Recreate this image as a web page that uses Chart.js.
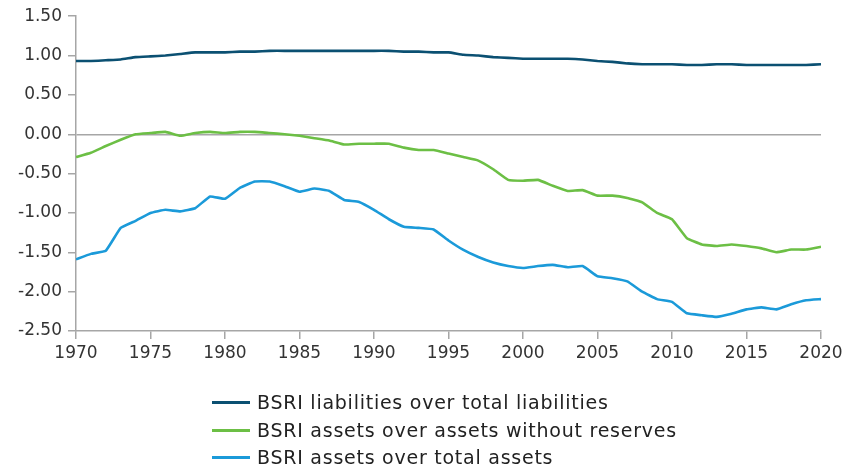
<!DOCTYPE html>
<html>
<head>
<meta charset="utf-8">
<script src="https://cdn.jsdelivr.net/npm/chart.js@4.4.0/dist/chart.umd.min.js"></script>
<style>
  body { margin: 0; background: #fff; }
  #wrap { position: relative; width: 849px; height: 469px; }
  #legend { position: absolute; left: 212px; top: 389px; font-family: "DejaVu Sans", sans-serif; font-size: 19px; letter-spacing: 0.75px; color: #222; }
  #legend div { height: 27.5px; line-height: 27px; white-space: nowrap; }
  #legend span { display: inline-block; width: 38px; height: 3px; vertical-align: middle; margin-right: 7px; position: relative; top: -1px; }
</style>
</head>
<body>
<div id="wrap">
  <canvas id="canvas" width="849" height="469"></canvas>
  <div id="legend"></div>
</div>
<script>
var years = [];
for (var y = 1970; y <= 2020; y++) years.push(y);

var seriesNames = [
  "BSRI liabilities over total liabilities",
  "BSRI assets over assets without reserves",
  "BSRI assets over total assets"
];
var seriesColors = ["#0b5072", "#6cbf45", "#1b9ad9"];

var liabilities = [0.93, 0.93, 0.94, 0.95, 0.98, 0.99, 1.00, 1.02, 1.04, 1.04,
  1.04, 1.05, 1.05, 1.06, 1.06, 1.06, 1.06, 1.06, 1.06, 1.06,
  1.06, 1.06, 1.05, 1.05, 1.04, 1.04, 1.01, 1.00, 0.98, 0.97,
  0.96, 0.96, 0.96, 0.96, 0.95, 0.93, 0.92, 0.90, 0.89, 0.89,
  0.89, 0.88, 0.88, 0.89, 0.89, 0.88, 0.88, 0.88, 0.88, 0.88, 0.89];

var assetsNoReserves = [-0.29, -0.235, -0.15, -0.07, 0.00, 0.015, 0.03, -0.02, 0.015, 0.03,
  0.015, 0.03, 0.03, 0.015, 0.00, -0.02, -0.05, -0.08, -0.13, -0.12,
  -0.12, -0.12, -0.17, -0.20, -0.20, -0.245, -0.29, -0.335, -0.445, -0.58,
  -0.59, -0.58, -0.655, -0.72, -0.71, -0.78, -0.78, -0.81, -0.865, -1.00,
  -1.08, -1.32, -1.40, -1.42, -1.40, -1.42, -1.45, -1.50, -1.465, -1.465, -1.43];

var assetsTotal = [-1.59, -1.52, -1.48, -1.19, -1.10, -1.00, -0.96, -0.98, -0.94, -0.79,
  -0.82, -0.68, -0.60, -0.60, -0.66, -0.73, -0.69, -0.72, -0.835, -0.86,
  -0.96, -1.08, -1.175, -1.19, -1.21, -1.35, -1.47, -1.56, -1.63, -1.675,
  -1.70, -1.675, -1.66, -1.69, -1.675, -1.805, -1.83, -1.87, -2.00, -2.095,
  -2.13, -2.275, -2.30, -2.32, -2.28, -2.225, -2.20, -2.225, -2.16, -2.11, -2.095];

function toPoints(vals) {
  return vals.map(function(v, i) { return { x: years[i], y: v }; });
}

var allSeries = [liabilities, assetsNoReserves, assetsTotal];
var datasets = allSeries.map(function(vals, i) {
  return {
    label: seriesNames[i],
    data: toPoints(vals),
    borderColor: seriesColors[i],
    backgroundColor: seriesColors[i],
    borderWidth: 2.6,
    pointRadius: 0,
    tension: 0.1,
    fill: false
  };
});

var legend = document.getElementById("legend");
seriesNames.forEach(function(name, i) {
  var row = document.createElement("div");
  row.innerHTML = '<span style="background:' + seriesColors[i] + '"></span>' + name;
  legend.appendChild(row);
});

var tickFont = { family: "DejaVu Sans", size: 17 };
var c = document.getElementById("canvas");
var chart = new Chart(c, {
  type: "line",
  data: { datasets: datasets },
  options: {
    responsive: false,
    animation: false,
    layout: { padding: { left: 0, right: 28, top: 14, bottom: 98 } },
    plugins: { legend: { display: false }, tooltip: { enabled: false } },
    scales: {
      x: {
        type: "linear",
        min: 1970,
        max: 2020,
        ticks: { stepSize: 5, color: "#333", font: tickFont, padding: 4, maxRotation: 0,
          callback: function(v) { return String(v); } },
        grid: { drawOnChartArea: false, tickLength: 8, color: "#a6a6a6", lineWidth: 1.5 },
        border: { color: "#a6a6a6", width: 1.5 },
        afterFit: function(s) { s.height = 40; }
      },
      y: {
        min: -2.5,
        max: 1.5,
        ticks: { stepSize: 0.5, color: "#333", font: tickFont, padding: 6,
          callback: function(v) { return v.toFixed(2); } },
        grid: {
          color: function(ctx) { return ctx.tick && ctx.tick.value === 0 ? "#a6a6a6" : "rgba(0,0,0,0)"; },
          tickColor: "#a6a6a6",
          tickLength: 8,
          lineWidth: 1.5
        },
        border: { color: "#a6a6a6", width: 1.5 },
        afterFit: function(s) { s.width = 76; }
      }
    }
  }
});
</script>
</body>
</html>
